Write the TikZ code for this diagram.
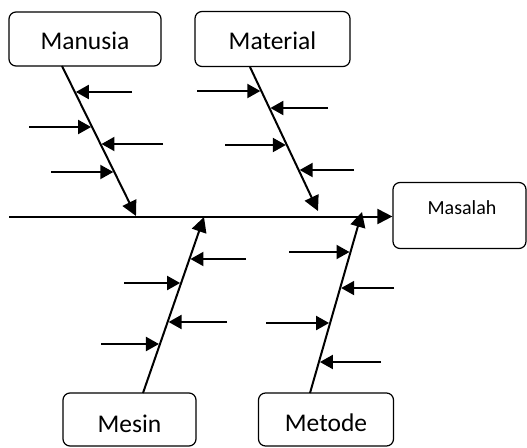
\documentclass[tikz,border=0pt]{standalone}
\usepackage{fontspec}
\setmainfont{Carlito}
\usetikzlibrary{arrows.meta,calc}

% lower a label inside its box without changing the box's own size
\newcommand{\dropby}[2]{\raisebox{-#1}[\height][0pt]{#2}}

\tikzset{
  cause/.style={draw, line width=1.2pt, rounded corners=7pt, inner sep=0pt,
                font=\fontsize{25.5}{30}\selectfont},
  effect/.style={draw, line width=1.2pt, rounded corners=7pt, inner sep=0pt},
  efftext/.style={font=\fontsize{20}{24}\selectfont, inner sep=0pt},
  bone/.style={line width=2pt, -{Triangle[length=15pt,width=15pt]}},
  spine/.style={line width=2pt, -{Triangle[length=15pt,width=15pt]}},
  sub/.style={line width=2pt, shorten >=1pt, -{Triangle[length=13pt,width=14pt]}},
}

\begin{document}
\begin{tikzpicture}[x=1pt,y=-1pt]
\useasboundingbox (0,0) rectangle (527,447);

% category boxes
\node[cause, minimum width=152pt, minimum height=54pt] (manusia) at (85,39) {\dropby{2pt}{Manusia}};
\node[cause, minimum width=155pt, minimum height=55pt] (material) at (272.5,39) {\dropby{2pt}{Material}};
\node[cause, minimum width=133pt, minimum height=53pt] (mesin) at (129.5,419.5) {\dropby{4pt}{Mesin}};
\node[cause, minimum width=135pt, minimum height=53pt] (metode) at (326,419.5) {\dropby{3pt}{Metode}};

% effect box
\node[effect, minimum width=133pt, minimum height=66pt] (masalah) at (459.5,215.5) {};
\node[efftext] (masalahtxt) at (462,208) {Masalah};

% spine
\coordinate (tail) at (9,216.5);
\draw[spine] (tail) -- (masalah.west |- tail);

% main bones
\coordinate (m1) at (62,66);   \coordinate (m2) at (136,216);
\coordinate (t1) at (250,67);  \coordinate (t2) at (318,211);
\coordinate (s1) at (143,393); \coordinate (s2) at (204,217);
\coordinate (d1) at (310,393); \coordinate (d2) at (362,212);
\draw[bone] (m1) -- (m2);
\draw[bone] (t1) -- (t2);
\draw[bone] (s1) -- (s2);
\draw[bone] (d1) -- (d2);

% sub-causes: Manusia
\coordinate (ma1) at ($(m1)!0.1733!(m2)$);
\coordinate (ma2) at ($(m1)!0.4067!(m2)$);
\coordinate (ma3) at ($(m1)!0.52!(m2)$);
\coordinate (ma4) at ($(m1)!0.7067!(m2)$);
\draw[sub] (ma1 -| 132,0) -- (ma1);
\draw[sub] (ma2 -| 29,0) -- (ma2);
\draw[sub] (ma3 -| 163,0) -- (ma3);
\draw[sub] (ma4 -| 51,0) -- (ma4);

% sub-causes: Material
\coordinate (ta1) at ($(t1)!0.1667!(t2)$);
\coordinate (ta2) at ($(t1)!0.2847!(t2)$);
\coordinate (ta3) at ($(t1)!0.5417!(t2)$);
\coordinate (ta4) at ($(t1)!0.7153!(t2)$);
\draw[sub] (ta1 -| 197,0) -- (ta1);
\draw[sub] (ta2 -| 328,0) -- (ta2);
\draw[sub] (ta3 -| 225,0) -- (ta3);
\draw[sub] (ta4 -| 354,0) -- (ta4);

% sub-causes: Mesin
\coordinate (sa1) at ($(s1)!0.7614!(s2)$);
\coordinate (sa2) at ($(s1)!0.625!(s2)$);
\coordinate (sa3) at ($(s1)!0.4034!(s2)$);
\coordinate (sa4) at ($(s1)!0.2784!(s2)$);
\draw[sub] (sa1 -| 246,0) -- (sa1);
\draw[sub] (sa2 -| 124,0) -- (sa2);
\draw[sub] (sa3 -| 227,0) -- (sa3);
\draw[sub] (sa4 -| 101,0) -- (sa4);

% sub-causes: Metode
\coordinate (da1) at ($(d1)!0.779!(d2)$);
\coordinate (da2) at ($(d1)!0.58!(d2)$);
\coordinate (da3) at ($(d1)!0.3867!(d2)$);
\coordinate (da4) at ($(d1)!0.1713!(d2)$);
\draw[sub] (da1 -| 289,0) -- (da1);
\draw[sub] (da2 -| 394,0) -- (da2);
\draw[sub] (da3 -| 266,0) -- (da3);
\draw[sub] (da4 -| 381,0) -- (da4);
\end{tikzpicture}
\end{document}
